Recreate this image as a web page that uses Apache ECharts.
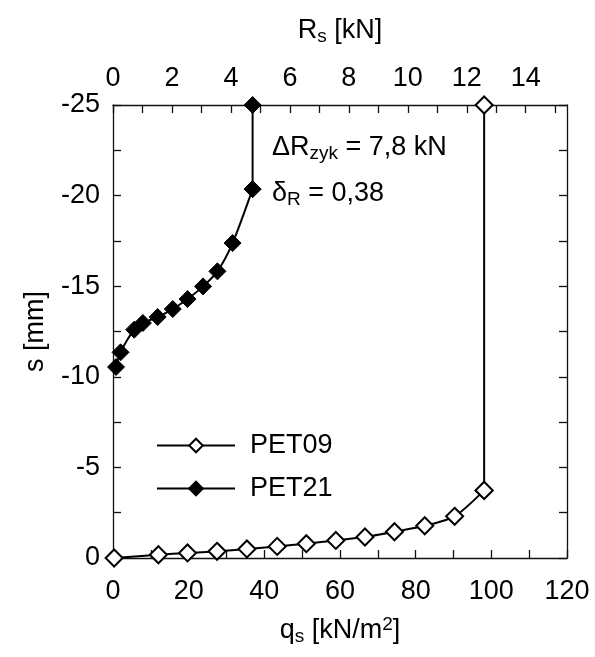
<!DOCTYPE html>
<html>
<head>
<meta charset="utf-8">
<script src="https://cdn.jsdelivr.net/npm/echarts@6/dist/echarts.min.js"></script>
<style>html,body{margin:0;padding:0;background:#fff}#c{width:595px;height:657px}</style>
</head>
<body>
<div id="c"></div>
<script>
// q_s [kN/m²], s [mm]
const pet09Q = [0.3, 12.0, 19.7, 27.5, 35.4, 43.4, 51.1, 58.9, 66.6, 74.4, 82.4, 90.3, 98.1];
const pet09S = [0, -0.18, -0.28, -0.37, -0.5, -0.64, -0.79, -0.97, -1.16, -1.45, -1.78, -2.3, -3.73];
const pet09TopQ = [98.1, 98.1];
const pet09TopS = [-3.73, -25];
const pet21Q = [0.8, 2.0, 5.6, 7.9, 11.8, 15.8, 19.7, 23.8, 27.6, 31.6, 36.9];
const pet21S = [-10.54, -11.35, -12.6, -12.97, -13.3, -13.74, -14.29, -14.99, -15.82, -17.38, -20.36];
const pet21TopQ = [36.9, 36.9];
const pet21TopS = [-20.36, -25];
const qTicks = [0, 20, 40, 60, 80, 100, 120];
const rTicks = [0, 2, 4, 6, 8, 10, 12, 14];
const sTicks = [-25, -20, -15, -10, -5, 0];
const rMax = 15.4;

const FONT = 'Liberation Sans, Arial, sans-serif';
const FS = 27;
const zip = (a, b) => a.map((v, i) => [v, b[i]]);

const axisCommon = {
  axisLine: { show: true, onZero: false, lineStyle: { color: '#111', width: 1.3 } },
  axisTick: { show: true, inside: true, length: 8, lineStyle: { color: '#111', width: 1.3 } },
  splitLine: { show: false },
  axisLabel: { color: '#000', fontSize: FS, fontFamily: FONT }
};
const nameStyle = {
  color: '#000', fontSize: FS, fontFamily: FONT,
  rich: {
    m: { fontSize: FS, fontFamily: FONT, color: '#000' },
    s: { fontSize: 19, fontFamily: FONT, color: '#000', padding: [12, 0, 0, 0] },
    p: { fontSize: 19, fontFamily: FONT, color: '#000', padding: [0, 0, 12, 0] }
  }
};

const openStyle = { color: '#fff', borderColor: '#000', borderWidth: 2 };
const fillStyle = { color: '#000', borderColor: '#000', borderWidth: 1 };
const lineSt = { color: '#000', width: 2 };

const chart = echarts.init(document.getElementById('c'), null, { renderer: 'canvas' });
chart.setOption({
  animation: false,
  backgroundColor: '#fff',
  grid: { left: 113, right: 28, top: 105, bottom: 99 },
  legend: {
    orient: 'vertical', left: 151, top: 426,
    itemWidth: 78, itemHeight: 17, itemGap: 14,
    data: ['PET09', 'PET21'],
    lineStyle: { width: 2, color: '#000' },
    textStyle: { color: '#000', fontSize: FS, fontFamily: FONT, padding: [0, 0, 0, 10], lineHeight: 29 }
  },
  xAxis: [
    Object.assign({}, axisCommon, {
      type: 'value', position: 'bottom', min: 0, max: 120, interval: 10,
      name: '{m|q}{s|s}{m| [kN/m}{p|2}{m|]}', nameLocation: 'middle', nameGap: 57, nameTextStyle: nameStyle,
      axisLabel: Object.assign({}, axisCommon.axisLabel, { margin: 20,
        formatter: v => qTicks.includes(v) ? String(v) : '' })
    }),
    Object.assign({}, axisCommon, {
      type: 'value', position: 'top', min: 0, max: rMax, interval: 1,
      name: '{m|R}{s|s}{m| [kN]}', nameLocation: 'middle', nameGap: 59, nameTextStyle: nameStyle,
      axisLabel: Object.assign({}, axisCommon.axisLabel, { margin: 13,
        showMaxLabel: false,
        formatter: v => rTicks.includes(v) ? String(v) : '' })
    })
  ],
  yAxis: [
    Object.assign({}, axisCommon, {
      type: 'value', position: 'left', min: -25, max: 0, interval: 2.5, inverse: true,
      name: 's [mm]', nameLocation: 'middle', nameGap: 64, nameTextStyle: nameStyle,
      axisLabel: Object.assign({}, axisCommon.axisLabel, { margin: 13,
        formatter: v => sTicks.includes(v) ? String(v) : '' })
    }),
    Object.assign({}, axisCommon, {
      type: 'value', position: 'right', min: -25, max: 0, interval: 2.5, inverse: true,
      axisLabel: { show: false }
    })
  ],
  series: [
    {
      name: 'PET09', type: 'line', xAxisIndex: 0, yAxisIndex: 0, clip: false,
      data: zip(pet09Q, pet09S), smooth: 0.25,
      symbol: 'diamond', symbolSize: 17,
      lineStyle: lineSt, itemStyle: openStyle, z: 3
    },
    {
      name: 'PET09', type: 'line', xAxisIndex: 0, yAxisIndex: 0, clip: false,
      data: zip(pet09TopQ, pet09TopS),
      symbol: 'diamond', symbolSize: 17,
      lineStyle: lineSt, itemStyle: openStyle, z: 2
    },
    {
      name: 'PET21', type: 'line', xAxisIndex: 0, yAxisIndex: 0, clip: false,
      data: zip(pet21Q, pet21S), smooth: 0.25,
      symbol: 'diamond', symbolSize: 17,
      lineStyle: lineSt, itemStyle: fillStyle, z: 3
    },
    {
      name: 'PET21', type: 'line', xAxisIndex: 0, yAxisIndex: 0, clip: false,
      data: zip(pet21TopQ, pet21TopS),
      symbol: 'diamond', symbolSize: 17,
      lineStyle: lineSt, itemStyle: fillStyle, z: 2
    }
  ],
  graphic: [
    { type: 'text', left: 272, top: 134, style: {
      text: '{m|ΔR}{s|zyk}{m| = 7,8 kN}', rich: nameStyle.rich } },
    { type: 'text', left: 272, top: 180, style: {
      text: '{m|δ}{s|R}{m| = 0,38}', rich: nameStyle.rich } }
  ]
});
</script>
</body>
</html>
